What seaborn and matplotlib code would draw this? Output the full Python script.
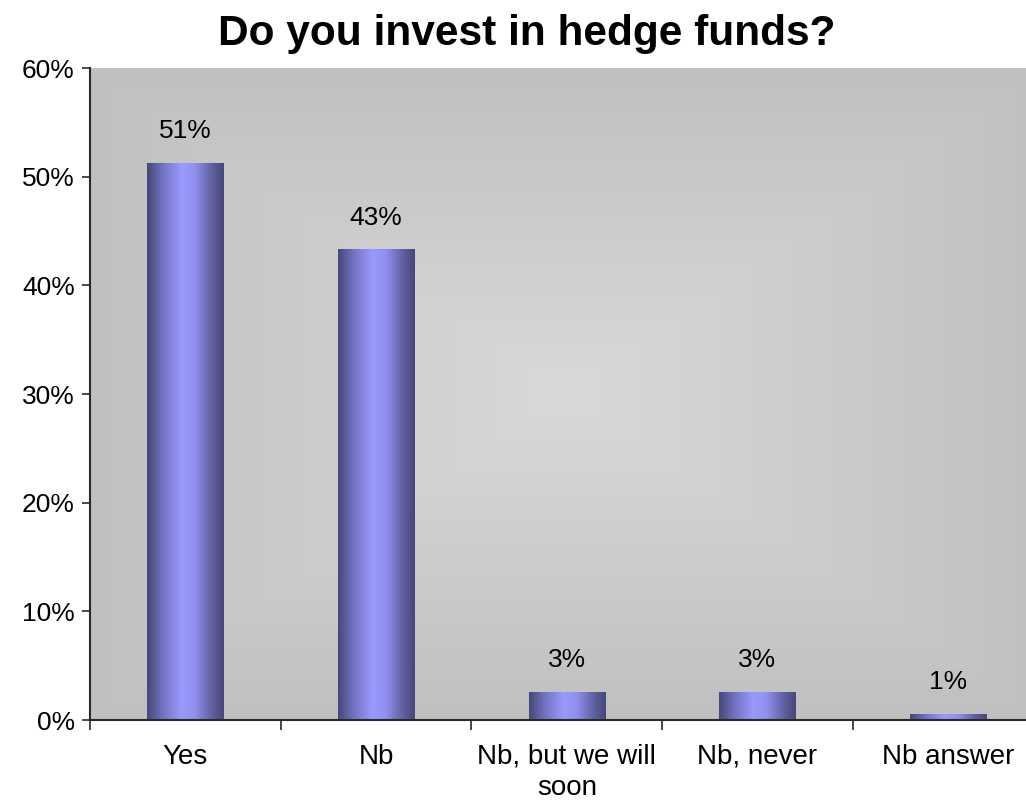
import numpy as np
import matplotlib
matplotlib.use("Agg")
import matplotlib.pyplot as plt
from matplotlib.colors import LinearSegmentedColormap
from matplotlib.ticker import FixedLocator, PercentFormatter
import seaborn as sns

categories = ["Yes", "Nb", "Nb, but we will\nsoon", "Nb, never", "Nb answer"]
shares = [0.513, 0.433, 0.026, 0.026, 0.006]
y_ticks = [0.0, 0.1, 0.2, 0.3, 0.4, 0.5, 0.6]
title = "Do you invest in hedge funds?"

sns.set_theme(style="white")
plt.rcParams["font.family"] = ["Liberation Sans", "DejaVu Sans"]

fig = plt.figure(figsize=(10.26, 8.02), dpi=100)
ax = fig.add_axes([0.0877, 0.1022, 0.9293, 0.813])

sns.barplot(x=categories, y=shares, ax=ax, width=0.4, color="#9999ff",
            edgecolor="none", linewidth=0, zorder=2)

# plot-area fill: rectangular gradient, lighter toward the centre
n = 400
u = np.linspace(-1, 1, n)
U, V = np.meshgrid(u, u)
d = np.maximum(np.abs(U), np.abs(V))
bg_cmap = LinearSegmentedColormap.from_list("bg", ["#d9d9d9", "#c0c0c0"])
ax.imshow(d, cmap=bg_cmap, extent=(0, 1, 0, 1), transform=ax.transAxes,
          aspect="auto", zorder=0, interpolation="bilinear")

# cylinder-like shading across every bar
bar_cmap = LinearSegmentedColormap.from_list(
    "bar", [(0.0, "#474778"), (0.2, "#7272c0"), (0.45, "#9a9aff"),
            (0.62, "#9090ee"), (0.85, "#5f5fa0"), (1.0, "#474778")])
grad = np.linspace(0, 1, 256).reshape(1, -1)
for patch in ax.patches:
    x0, y0 = patch.get_x(), patch.get_y()
    w, h = patch.get_width(), patch.get_height()
    im = ax.imshow(grad, cmap=bar_cmap, extent=(x0, x0 + w, y0, y0 + h),
                   aspect="auto", zorder=3, interpolation="bilinear")
    im.set_clip_path(patch)

for i, v in enumerate(shares):
    ax.annotate(f"{v * 100:.0f}%", (i, v), xytext=(0, 14),
                textcoords="offset points", ha="center", va="bottom",
                fontsize=19, color="black", zorder=5)

ax.set_xlim(-0.5, 4.5)
ax.set_ylim(0, 0.6)
ax.yaxis.set_major_locator(FixedLocator(y_ticks))
ax.yaxis.set_major_formatter(PercentFormatter(1.0, decimals=0))

ax.xaxis.set_minor_locator(FixedLocator(np.arange(-0.5, 5.0, 1.0)))
ax.tick_params(axis="x", which="major", length=0, pad=17, labelsize=20,
               labelcolor="black")
ax.tick_params(axis="x", which="minor", length=7, width=1.2, color="#2a2a2a",
               direction="out", bottom=True)
ax.tick_params(axis="y", which="major", length=6, width=1.2, color="#2a2a2a",
               direction="out", left=True, pad=5, labelsize=19,
               labelcolor="black")
for lbl in ax.get_xticklabels():
    lbl.set_linespacing(1.25)

for side in ["top", "right"]:
    ax.spines[side].set_visible(False)
for side in ["left", "bottom"]:
    ax.spines[side].set_color("#2a2a2a")
    ax.spines[side].set_linewidth(1.5)
    ax.spines[side].set_zorder(6)

ax.grid(False)
ax.set_xlabel("")
ax.set_ylabel("")

fig.text(0.513, 0.958, title, ha="center", va="center", fontsize=30.5,
         fontweight="bold", color="black")

fig.savefig("out.png", dpi=100)
